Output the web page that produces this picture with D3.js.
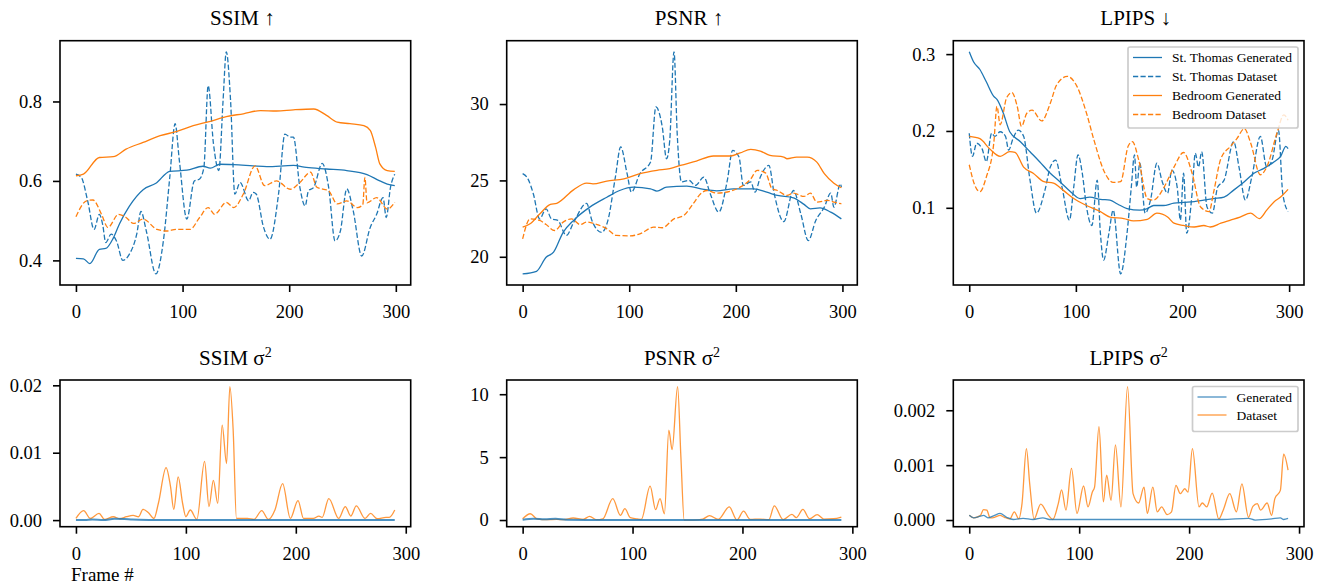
<!DOCTYPE html>
<html>
<head>
<meta charset="utf-8">
<script src="https://cdn.jsdelivr.net/npm/d3@7"></script>
<style>
  body { margin: 0; background: #fff; }
  svg { display: block; }
  text { font-family: "Liberation Serif", "DejaVu Serif", serif; fill: #000; }
</style>
</head>
<body>
<div id="chart"></div>
<script>
// ---- data: [frame, value] ----
const frameTicks = [0, 100, 200, 300];

const ssimThomasGen = [[0,0.405],[7,0.404],[13,0.392],[22,0.428],[28,0.430],[35,0.456],[41,0.493],[50,0.536],[63,0.578],[75,0.594],[88,0.624],[104,0.627],[119,0.637],[126,0.632],[135,0.642],[148,0.641],[166,0.638],[179,0.636],[204,0.639],[216,0.634],[235,0.630],[254,0.626],[273,0.616],[285,0.600],[292,0.592],[299,0.588]];
const ssimThomasData = [[0,0.617],[5,0.609],[11,0.55],[17,0.478],[22,0.516],[25,0.491],[28,0.445],[33,0.466],[38,0.449],[44,0.40],[50,0.415],[57,0.466],[61,0.523],[66,0.474],[75,0.366],[82,0.449],[88,0.609],[93,0.744],[97,0.651],[104,0.504],[111,0.60],[116,0.605],[120,0.634],[124,0.84],[129,0.693],[134,0.626],[138,0.803],[141,0.925],[145,0.803],[149,0.567],[154,0.596],[162,0.55],[166,0.571],[169,0.567],[176,0.483],[182,0.453],[190,0.567],[196,0.718],[201,0.71],[204,0.71],[210,0.584],[215,0.537],[218,0.575],[223,0.584],[231,0.644],[237,0.584],[243,0.449],[248,0.474],[254,0.58],[260,0.525],[268,0.411],[276,0.483],[282,0.516],[288,0.558],[291,0.508],[295,0.584],[299,0.617]];
const ssimBedGen = [[0,0.613],[7,0.617],[22,0.659],[35,0.661],[47,0.680],[63,0.697],[79,0.714],[94,0.724],[110,0.739],[126,0.750],[141,0.762],[157,0.769],[173,0.777],[188,0.776],[204,0.779],[223,0.781],[235,0.765],[245,0.748],[257,0.744],[270,0.739],[276,0.727],[281,0.685],[285,0.643],[292,0.626],[299,0.624]];
const ssimBedData = [[0,0.51],[10,0.55],[16,0.552],[24,0.516],[30,0.483],[40,0.516],[47,0.508],[54,0.493],[63,0.504],[76,0.478],[85,0.474],[94,0.478],[107,0.478],[116,0.508],[124,0.533],[130,0.516],[141,0.546],[148,0.533],[157,0.567],[168,0.638],[177,0.588],[188,0.60],[201,0.579],[210,0.596],[220,0.622],[226,0.584],[237,0.575],[245,0.542],[254,0.55],[264,0.533],[269,0.54],[271,0.609],[273,0.545],[282,0.558],[292,0.529],[299,0.546]];

const psnrThomasGen = [[0,18.88],[13,19.05],[22,19.97],[29,20.3],[38,21.6],[48,22.4],[63,23.25],[79,23.9],[91,24.34],[104,24.56],[120,24.45],[126,24.3],[135,24.56],[154,24.63],[170,24.41],[182,24.32],[198,24.45],[217,24.45],[229,24.23],[239,24.02],[254,23.86],[264,23.43],[270,23.14],[279,23.2],[289,22.92],[299,22.48]];
const psnrThomasData = [[0,25.44],[5,25.1],[10,24.13],[16,22.48],[22,23.14],[27,22.48],[33,22.38],[41,21.4],[48,22.27],[60,23.5],[65,22.38],[74,21.6],[80,22.38],[87,25.22],[92,27.19],[98,25.44],[102,24.23],[110,25.44],[120,26.2],[125,29.81],[131,28.5],[135,26.42],[138,27.62],[142,33.42],[145,28.06],[149,24.9],[156,25.0],[162,24.67],[170,25.22],[176,24.13],[184,22.92],[192,25.0],[197,26.97],[203,26.53],[207,24.67],[214,24.9],[218,24.23],[223,25.22],[231,25.98],[236,24.13],[245,22.3],[254,24.34],[261,22.8],[268,21.06],[275,22.38],[283,23.25],[289,24.17],[292,23.25],[298,24.78],[299,24.56]];
const psnrBedGen = [[0,21.94],[7,22.16],[16,22.8],[26,23.43],[32,23.5],[48,24.4],[60,24.82],[66,24.78],[79,24.96],[95,25.1],[110,25.44],[126,25.66],[138,25.77],[148,25.98],[163,26.27],[179,26.6],[195,26.6],[204,26.8],[214,27.03],[223,26.92],[232,26.64],[245,26.53],[248,26.42],[257,26.53],[267,26.53],[276,26.2],[283,25.44],[292,24.82],[299,24.52]];
const psnrBedData = [[0,21.17],[7,22.48],[16,22.38],[22,22.11],[30,21.72],[38,22.27],[46,22.48],[54,22.11],[60,22.27],[70,22.11],[79,21.83],[88,21.4],[101,21.37],[110,21.5],[123,21.94],[131,21.9],[142,22.48],[151,22.7],[160,23.47],[167,24.13],[173,24.34],[182,24.17],[195,24.3],[204,24.56],[214,25.1],[220,25.66],[228,25.48],[234,24.45],[239,24.34],[248,24.02],[254,24.17],[264,23.95],[270,24.17],[276,23.58],[286,23.69],[292,23.58],[299,23.47]];

const lpipsThomasGen = [[0,0.303],[4,0.29],[10,0.28],[16,0.264],[23,0.245],[26,0.241],[32,0.223],[38,0.199],[48,0.186],[57,0.173],[66,0.16],[76,0.145],[85,0.134],[95,0.121],[104,0.112],[113,0.114],[123,0.111],[132,0.11],[139,0.105],[148,0.099],[160,0.097],[167,0.099],[173,0.103],[182,0.103],[192,0.106],[201,0.107],[211,0.108],[220,0.11],[229,0.112],[239,0.114],[248,0.123],[258,0.134],[267,0.145],[276,0.151],[286,0.16],[292,0.167],[297,0.18],[299,0.177]];
const lpipsThomasData = [[0,0.197],[3,0.167],[7,0.184],[12,0.177],[16,0.16],[21,0.197],[24,0.193],[29,0.199],[34,0.193],[37,0.175],[41,0.19],[46,0.201],[51,0.193],[57,0.136],[63,0.093],[71,0.123],[76,0.153],[81,0.162],[87,0.127],[94,0.084],[98,0.127],[102,0.169],[106,0.145],[110,0.101],[115,0.077],[120,0.136],[123,0.067],[126,0.032],[131,0.067],[135,0.097],[142,0.014],[148,0.067],[152,0.127],[155,0.169],[157,0.127],[160,0.158],[165,0.093],[170,0.11],[176,0.158],[181,0.134],[186,0.119],[190,0.149],[195,0.127],[198,0.084],[201,0.145],[204,0.067],[209,0.119],[212,0.171],[215,0.153],[218,0.173],[223,0.101],[228,0.093],[233,0.127],[239,0.136],[248,0.186],[253,0.153],[259,0.11],[265,0.14],[273,0.193],[279,0.153],[284,0.162],[290,0.201],[294,0.119],[299,0.095]];
const lpipsBedGen = [[0,0.193],[10,0.19],[19,0.177],[29,0.167],[38,0.173],[43,0.172],[51,0.153],[60,0.145],[70,0.134],[79,0.132],[88,0.123],[98,0.112],[110,0.103],[123,0.095],[132,0.088],[145,0.086],[154,0.083],[167,0.085],[176,0.093],[186,0.088],[192,0.08],[201,0.077],[211,0.075],[220,0.077],[226,0.075],[236,0.08],[245,0.084],[254,0.088],[264,0.093],[272,0.086],[279,0.097],[286,0.108],[292,0.114],[299,0.124]];
const lpipsBedData = [[0,0.156],[5,0.13],[10,0.121],[16,0.14],[23,0.184],[26,0.232],[29,0.208],[35,0.243],[40,0.25],[45,0.232],[49,0.206],[54,0.223],[59,0.227],[68,0.213],[76,0.236],[82,0.26],[92,0.271],[101,0.258],[110,0.223],[117,0.188],[126,0.149],[135,0.133],[142,0.134],[149,0.18],[153,0.186],[159,0.162],[167,0.112],[173,0.11],[182,0.125],[192,0.153],[201,0.172],[209,0.145],[217,0.101],[225,0.095],[229,0.119],[236,0.164],[245,0.18],[251,0.19],[258,0.203],[264,0.184],[273,0.143],[279,0.153],[289,0.199],[295,0.221],[299,0.214]];

const ssimVarGen = [[0,0.00003],[8,0.00002],[15,0.00008],[25,0.00001],[35,0.0002],[50,0.0001],[70,0.00002],[100,0.00001],[150,0.00001],[200,0.00001],[250,0.00001],[290,0.00001]];
const ssimVarData = [[0,0.00025],[7,0.0014],[13,0.00025],[21,0.001],[26,0.0001],[34,0.0005],[40,0.0002],[46,0.0005],[52,0.0007],[57,0.0005],[61,0.0016],[66,0.0011],[71,0.00025],[75,0.0025],[82,0.0078],[86,0.005],[89,0.0016],[93,0.0064],[97,0.0025],[100,0.0005],[104,0.0015],[110,0.0001],[117,0.0087],[121,0.002],[125,0.0059],[129,0.0025],[133,0.0141],[137,0.0084],[140,0.0198],[143,0.0134],[146,0.00025],[156,0.00025],[162,0.0001],[169,0.0014],[175,0.0001],[181,0.0015],[188,0.0054],[195,0.00025],[202,0.0029],[207,0.00025],[216,0.00025],[221,0.0006],[224,0.0004],[230,0.0032],[239,0.00025],[245,0.002],[250,0.0006],[255,0.0021],[263,0.00025],[268,0.001],[274,0.0002],[282,0.0004],[285,0.0004],[290,0.0015]];
const psnrVarGen = [[0,0.03],[10,0.1],[20,0.06],[30,0.1],[40,0.02],[60,0.01],[100,0.01],[150,0.01],[200,0.01],[250,0.01],[290,0.01]];
const psnrVarData = [[0,0.1],[7,0.5],[13,0.1],[22,0.03],[31,0.05],[37,0.03],[46,0.16],[55,0.05],[61,0.29],[67,0.03],[73,0.1],[82,1.7],[89,0.37],[93,0.9],[98,0.19],[104,0.1],[108,0.05],[116,2.69],[121,0.82],[125,1.7],[129,0.5],[133,7.15],[136,5.6],[141,10.6],[144,5.0],[147,0],[155,0],[164,0.08],[170,0.35],[178,0.05],[188,1.04],[195,0],[201,0.7],[207,0.05],[216,0.08],[224,0.03],[229,1.12],[237,0.03],[245,0.45],[249,0.19],[255,0.85],[261,0.1],[268,0.43],[274,0.08],[283,0.1],[290,0.24]];
const lpipsVarGen = [[0,0.000085],[4,0.00004],[10,0.00007],[13,0.000085],[17,0.00004],[23,0.000085],[28,0.00012],[34,0.00005],[40,0.00001],[49,0.00003],[58,0.00001],[67,0.00004],[73,0.00001],[100,0.00001],[130,0.00001],[160,0.00001],[200,0.00001],[230,0.00001],[254,0.00003],[260,0.0],[275,0.00002],[283,0.00004],[286,0.00001],[290,0.00003]];
const lpipsVarData = [[0,0.000085],[4,0.00004],[10,0.00008],[13,0.00019],[16,0.00018],[19,0.00004],[23,0.00005],[28,0.000085],[32,0.00005],[37,0.00002],[41,0.00015],[45,0.00002],[48,0.0003],[52,0.0013],[55,0.00066],[59,0.00002],[65,0.00029],[72,0.000085],[76,0.00001],[81,0.0003],[84,0.00055],[88,0.00018],[93,0.00094],[98,0.00012],[104,0.00062],[108,0.00024],[112,0.00051],[114,0.0006],[118,0.0017],[122,0.00033],[125,0.00082],[129,0.00036],[133,0.00137],[138,0.00024],[144,0.00243],[149,0.00048],[154,0.00031],[159,0.0006],[162,0.00012],[167,0.0006],[171,0.00015],[175,0.00024],[180,0.0001],[184,0.00015],[188,0.00063],[192,0.00048],[196,0.00057],[199,0.00051],[203,0.0013],[209,0.00024],[212,0.00031],[216,0.00024],[221,0.00049],[227,0.00002],[231,0.00018],[237,0.00048],[243,0.00015],[248,0.00066],[254,0.00005],[258,0.00025],[262,0.0003],[265,0.00018],[271,0.00031],[275,0.000085],[278,0.00039],[283,0.00054],[286,0.0012],[290,0.00091]];

const topLegend = ['St. Thomas Generated', 'St. Thomas Dataset', 'Bedroom Generated', 'Bedroom Dataset'];
const bottomLegend = ['Generated', 'Dataset'];

// ---- layout ----
const W = 1330, H = 587;
const blue = '#1f77b4', orange = '#ff7f0e';
const cols = [[60, 410.7], [506.7, 857.3], [953.3, 1304]];
const rows = [[40.7, 285], [380, 526.7]];

const svg = d3.select('#chart').append('svg')
    .attr('width', W)
    .attr('height', H);
svg.append('rect').attr('width', W).attr('height', H).attr('fill', '#fff');

// series: [data, colour, dashed, width]
const panels = [
    { row: 0, col: 0, title: 'SSIM', arrow: '↑', last: 299, ticks: [0.4, 0.6, 0.8], fmt: '.1f',
      series: [[ssimThomasGen, blue, false], [ssimThomasData, blue, true], [ssimBedGen, orange, false], [ssimBedData, orange, true]] },
    { row: 0, col: 1, title: 'PSNR', arrow: '↑', last: 299, ticks: [20, 25, 30], fmt: 'd',
      series: [[psnrThomasGen, blue, false], [psnrThomasData, blue, true], [psnrBedGen, orange, false], [psnrBedData, orange, true]] },
    { row: 0, col: 2, title: 'LPIPS', arrow: '↓', last: 299, ticks: [0.1, 0.2, 0.3], fmt: '.1f',
      series: [[lpipsThomasGen, blue, false], [lpipsThomasData, blue, true], [lpipsBedGen, orange, false], [lpipsBedData, orange, true]] },
    { row: 1, col: 0, title: 'SSIM', sup: true, last: 290, ticks: [0, 0.01, 0.02], fmt: '.2f',
      series: [[ssimVarData, orange, false], [ssimVarGen, blue, false, 2]] },
    { row: 1, col: 1, title: 'PSNR', sup: true, last: 290, ticks: [0, 5, 10], fmt: 'd',
      series: [[psnrVarData, orange, false], [psnrVarGen, blue, false, 2]] },
    { row: 1, col: 2, title: 'LPIPS', sup: true, last: 290, ticks: [0, 0.001, 0.002], fmt: '.3f',
      series: [[lpipsVarData, orange, false], [lpipsVarGen, blue, false]] }
];

function drawPanel(p) {
    const [x0, x1] = cols[p.col];
    const [y0, y1] = rows[p.row];
    const vals = p.series.flatMap(s => s[0].map(d => d[1]));
    const [lo, hi] = d3.extent(vals);
    const pad = (hi - lo) * 0.05;

    const x = d3.scaleLinear().domain([-p.last * 0.05, p.last * 1.05]).range([x0, x1]);
    const y = d3.scaleLinear().domain([lo - pad, hi + pad]).range([y1, y0]);

    const clipId = 'clip' + p.row + p.col;
    svg.append('clipPath').attr('id', clipId)
        .append('rect').attr('x', x0).attr('y', y0).attr('width', x1 - x0).attr('height', y1 - y0);

    const line = d3.line()
        .x(d => x(d[0]))
        .y(d => y(d[1]))
        .curve(d3.curveMonotoneX);

    const g = svg.append('g').attr('clip-path', `url(#${clipId})`);
    p.series.forEach(s => {
        g.append('path')
            .attr('d', line(s[0]))
            .attr('fill', 'none')
            .attr('stroke', s[1])
            .attr('stroke-width', s[3] || 1.3)
            .attr('stroke-opacity', p.row === 1 ? 0.8 : 1)
            .attr('stroke-dasharray', s[2] ? '5.2,2.3' : null);
    });

    const xAxis = svg.append('g')
        .attr('transform', `translate(0,${y1})`)
        .call(d3.axisBottom(x).tickValues(frameTicks).tickSize(7).tickPadding(13).tickFormat(d3.format('d')));
    const yAxis = svg.append('g')
        .attr('transform', `translate(${x0},0)`)
        .call(d3.axisLeft(y).tickValues(p.ticks).tickSize(7).tickPadding(11).tickFormat(d3.format(p.fmt)));
    [xAxis, yAxis].forEach(a => {
        a.select('.domain').remove();
        a.attr('font-family', null).attr('font-size', null);
        a.selectAll('line').attr('stroke', '#000').attr('stroke-width', 1.6);
        a.selectAll('text').style('font-size', '18.5px');
    });

    svg.append('rect')
        .attr('x', x0).attr('y', y0)
        .attr('width', x1 - x0).attr('height', y1 - y0)
        .attr('fill', 'none').attr('stroke', '#000').attr('stroke-width', 1.6);

    const t = svg.append('text')
        .attr('text-anchor', 'middle')
        .style('font-size', '21px');
    if (p.sup) {
        t.attr('x', (x0 + x1) / 2).attr('y', 365);
        t.append('tspan').text(p.title + ' σ');
        t.append('tspan').text('2').attr('dy', -8).style('font-size', '14px');
    } else {
        t.attr('x', (x0 + x1) / 2 + 7).attr('y', 25);
        t.append('tspan').text(p.title + ' ');
        t.append('tspan').text(p.arrow).style('font-weight', 'bold');
    }
}

panels.forEach(drawPanel);

function legend(x, y, w, h, rowGap, items, styles) {
    svg.append('rect')
        .attr('x', x).attr('y', y).attr('width', w).attr('height', h)
        .attr('rx', 2)
        .attr('fill', '#fff').attr('fill-opacity', 0.8)
        .attr('stroke', '#cccccc').attr('stroke-width', 1.7);
    items.forEach((label, i) => {
        const cy = y + 10.5 + i * rowGap;
        svg.append('line')
            .attr('x1', x + 5).attr('x2', x + 34)
            .attr('y1', cy).attr('y2', cy)
            .attr('stroke', styles[i][0])
            .attr('stroke-width', 1.3)
            .attr('stroke-opacity', styles[i][2] || 1)
            .attr('stroke-dasharray', styles[i][1] ? '5.2,2.3' : null);
        svg.append('text')
            .attr('x', x + 44).attr('y', cy)
            .attr('dy', '0.35em')
            .style('font-size', '13.5px')
            .text(label);
    });
}

legend(1128, 47, 170, 81, 19, topLegend, [[blue, false], [blue, true], [orange, false], [orange, true]]);
legend(1192.5, 386.5, 105.5, 45, 18, bottomLegend, [[blue, false, 0.8], [orange, false, 0.8]]);

svg.append('text')
    .attr('x', 71).attr('y', 581)
    .style('font-size', '19px')
    .text('Frame #');
</script>
</body>
</html>
